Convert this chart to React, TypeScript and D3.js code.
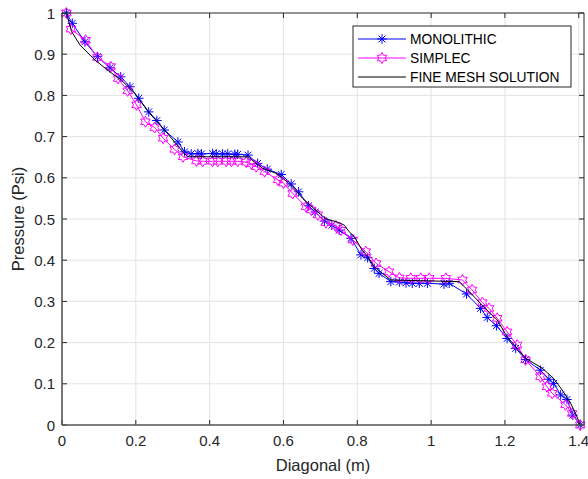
import React from 'react';
import * as d3 from 'd3';

// MONOLITHIC (blue, asterisks)
const monoX = [0.012, 0.028, 0.062, 0.096, 0.13, 0.159, 0.184, 0.208, 0.235, 0.257, 0.277, 0.314, 0.332, 0.35, 0.368, 0.378, 0.408, 0.418, 0.435, 0.449, 0.468, 0.476, 0.504, 0.53, 0.556, 0.594, 0.621, 0.641, 0.668, 0.686, 0.711, 0.731, 0.751, 0.783, 0.81, 0.828, 0.846, 0.859, 0.891, 0.914, 0.932, 0.949, 0.968, 0.99, 1.035, 1.049, 1.096, 1.134, 1.152, 1.177, 1.206, 1.229, 1.256, 1.296, 1.319, 1.332, 1.351, 1.368, 1.384, 1.404];
const monoY = [1.0, 0.975, 0.93, 0.894, 0.867, 0.845, 0.821, 0.793, 0.76, 0.739, 0.716, 0.687, 0.663, 0.658, 0.659, 0.658, 0.659, 0.658, 0.658, 0.658, 0.657, 0.657, 0.655, 0.635, 0.621, 0.608, 0.585, 0.566, 0.532, 0.517, 0.495, 0.485, 0.473, 0.453, 0.413, 0.406, 0.38, 0.368, 0.348, 0.347, 0.345, 0.344, 0.344, 0.344, 0.342, 0.344, 0.318, 0.283, 0.261, 0.241, 0.21, 0.186, 0.159, 0.133, 0.111, 0.101, 0.073, 0.062, 0.024, 0.0];

// SIMPLEC (magenta, hexagrams)
const simplecX = [0.012, 0.024, 0.064, 0.096, 0.132, 0.152, 0.178, 0.202, 0.226, 0.251, 0.274, 0.305, 0.328, 0.364, 0.381, 0.408, 0.422, 0.445, 0.459, 0.476, 0.499, 0.513, 0.526, 0.549, 0.585, 0.6, 0.625, 0.661, 0.675, 0.693, 0.715, 0.742, 0.756, 0.788, 0.823, 0.851, 0.886, 0.914, 0.945, 0.972, 0.995, 1.04, 1.085, 1.111, 1.139, 1.157, 1.179, 1.206, 1.233, 1.256, 1.296, 1.314, 1.328, 1.364, 1.382, 1.404];
const simplecY = [1.0, 0.961, 0.934, 0.892, 0.87, 0.841, 0.811, 0.777, 0.736, 0.722, 0.696, 0.669, 0.651, 0.641, 0.64, 0.64, 0.64, 0.64, 0.64, 0.64, 0.638, 0.634, 0.627, 0.615, 0.595, 0.587, 0.562, 0.53, 0.522, 0.51, 0.491, 0.483, 0.473, 0.449, 0.421, 0.392, 0.372, 0.357, 0.356, 0.356, 0.356, 0.356, 0.352, 0.328, 0.297, 0.283, 0.259, 0.226, 0.194, 0.158, 0.117, 0.093, 0.077, 0.049, 0.028, 0.0];

// FINE MESH SOLUTION (black line)
const fineX = [0.012, 0.026, 0.049, 0.089, 0.13, 0.161, 0.197, 0.233, 0.278, 0.328, 0.341, 0.504, 0.526, 0.544, 0.58, 0.598, 0.625, 0.652, 0.679, 0.715, 0.733, 0.751, 0.765, 0.778, 0.792, 0.81, 0.828, 0.846, 0.868, 0.891, 1.076, 1.103, 1.134, 1.179, 1.206, 1.233, 1.256, 1.301, 1.332, 1.355, 1.378, 1.395, 1.404];
const fineY = [1.0, 0.955, 0.922, 0.886, 0.857, 0.837, 0.805, 0.761, 0.716, 0.662, 0.651, 0.651, 0.635, 0.623, 0.611, 0.599, 0.578, 0.55, 0.528, 0.5, 0.496, 0.491, 0.485, 0.469, 0.457, 0.429, 0.409, 0.384, 0.368, 0.352, 0.348, 0.324, 0.295, 0.255, 0.214, 0.186, 0.162, 0.138, 0.113, 0.085, 0.053, 0.02, 0.0];

const xTicks = [0, 0.2, 0.4, 0.6, 0.8, 1, 1.2, 1.4];
const yTicks = [0, 0.1, 0.2, 0.3, 0.4, 0.5, 0.6, 0.7, 0.8, 0.9, 1];
const legendLabels = ['MONOLITHIC', 'SIMPLEC', 'FINE MESH SOLUTION'];

const W = 588;
const H = 479;
const left = 62, right = 584, top = 13, bottom = 425;
const FONT = 'Liberation Sans, Arial, Helvetica, sans-serif';
const BLUE = '#0000ff';
const MAGENTA = '#ff00ff';
const AXIS = '#262626';

const asterisk = (r: number) => {
  const d = r * 0.7071;
  return `M${-r},0L${r},0M0,${-r}L0,${r}M${-d},${-d}L${d},${d}M${-d},${d}L${d},${-d}`;
};

const hexagram = (R: number) => {
  const rIn = R / Math.sqrt(3);
  const pts: string[] = [];
  for (let k = 0; k < 12; k++) {
    const a = -Math.PI / 2 + (k * Math.PI) / 6;
    const r = k % 2 === 0 ? R : rIn;
    pts.push(`${(r * Math.cos(a)).toFixed(2)},${(r * Math.sin(a)).toFixed(2)}`);
  }
  return 'M' + pts.join('L') + 'Z';
};

const fmt = (v: number) => (v === 0 ? '0' : v === 1 ? '1' : String(+v.toFixed(1)));

export default function App() {
  const x = d3.scaleLinear().domain([0, Math.SQRT2]).range([left, right]);
  const y = d3.scaleLinear().domain([0, 1]).range([bottom, top]);

  const toPts = (xs: number[], ys: number[]) => xs.map((v, i) => [v, ys[i]] as [number, number]);
  const line = d3.line<[number, number]>().x((d) => x(d[0])).y((d) => y(d[1]));

  const mono = toPts(monoX, monoY);
  const simp = toPts(simplecX, simplecY);
  const fine = toPts(fineX, fineY);

  const star = asterisk(4.8);
  const hex = hexagram(5.5);

  const lgX = 353, lgY = 26, lgW = 218, lgH = 61;
  const rowY = [39, 58, 77];

  return (
    <svg width={W} height={H} style={{ position: 'absolute', left: 0, top: 0, background: '#fff' }}>
      <rect x={0} y={0} width={W} height={H} fill="#fff" />
      {/* grid */}
      <g stroke="#e3e3e3" strokeWidth={1}>
        {xTicks.filter((t) => t > 0).map((t) => (
          <line key={'gx' + t} x1={x(t)} x2={x(t)} y1={top} y2={bottom} />
        ))}
        {yTicks.filter((t) => t > 0 && t < 1).map((t) => (
          <line key={'gy' + t} x1={left} x2={right} y1={y(t)} y2={y(t)} />
        ))}
      </g>

      {/* series */}
      <path d={line(mono) || ''} fill="none" stroke={BLUE} strokeWidth={1} />
      {mono.map((p, i) => (
        <path key={'m' + i} d={star} transform={`translate(${x(p[0])},${y(p[1])})`} fill="none" stroke={BLUE} strokeWidth={1} />
      ))}
      <path d={line(simp) || ''} fill="none" stroke={MAGENTA} strokeWidth={1} />
      {simp.map((p, i) => (
        <path key={'s' + i} d={hex} transform={`translate(${x(p[0])},${y(p[1])})`} fill="none" stroke={MAGENTA} strokeWidth={1} />
      ))}
      <path d={line(fine) || ''} fill="none" stroke="#000" strokeWidth={1} />

      {/* axes box and ticks */}
      <g stroke={AXIS} strokeWidth={1} fill="none">
        <line x1={left} x2={right} y1={top} y2={top} />
        <line x1={right} x2={right} y1={top} y2={bottom} />
        {xTicks.map((t) => (
          <g key={'tx' + t}>
            <line x1={x(t)} x2={x(t)} y1={bottom} y2={bottom - 5} />
            <line x1={x(t)} x2={x(t)} y1={top} y2={top + 5} />
          </g>
        ))}
        {yTicks.map((t) => (
          <g key={'ty' + t}>
            <line x1={left} x2={left + 5} y1={y(t)} y2={y(t)} />
            <line x1={right} x2={right - 5} y1={y(t)} y2={y(t)} />
          </g>
        ))}
      </g>
      <g stroke="#555" strokeWidth={1.6} fill="none">
        <line x1={left} x2={left} y1={top} y2={bottom} />
        <line x1={left} x2={right} y1={bottom} y2={bottom} />
      </g>
      <g fontFamily={FONT} fontSize={15} fill={AXIS}>
        {xTicks.map((t) => (
          <text key={'lx' + t} x={x(t)} y={446} textAnchor="middle">{fmt(t)}</text>
        ))}
        {yTicks.map((t) => (
          <text key={'ly' + t} x={55} y={y(t) + 5.5} textAnchor="end">{fmt(t)}</text>
        ))}
      </g>
      <text x={(left + right) / 2} y={471} textAnchor="middle" fontFamily={FONT} fontSize={16.5} fill={AXIS}>Diagonal (m)</text>
      <text transform={`translate(24,${(top + bottom) / 2}) rotate(-90)`} textAnchor="middle" fontFamily={FONT} fontSize={16.5} fill={AXIS}>Pressure (Psi)</text>

      {/* legend */}
      <rect x={lgX} y={lgY} width={lgW} height={lgH} fill="#fff" stroke={AXIS} strokeWidth={1} />
      {legendLabels.map((lab, i) => {
        const c = i === 0 ? BLUE : i === 1 ? MAGENTA : '#000';
        return (
          <g key={lab}>
            <line x1={358} x2={406} y1={rowY[i]} y2={rowY[i]} stroke={c} strokeWidth={1} />
            {i === 0 && <path d={star} transform={`translate(382,${rowY[i]})`} fill="none" stroke={BLUE} />}
            {i === 1 && <path d={hex} transform={`translate(382,${rowY[i]})`} fill="none" stroke={MAGENTA} />}
            <text x={410} y={rowY[i] + 5} fontFamily={FONT} fontSize={13.8} fill="#000">{lab}</text>
          </g>
        );
      })}
    </svg>
  );
}
